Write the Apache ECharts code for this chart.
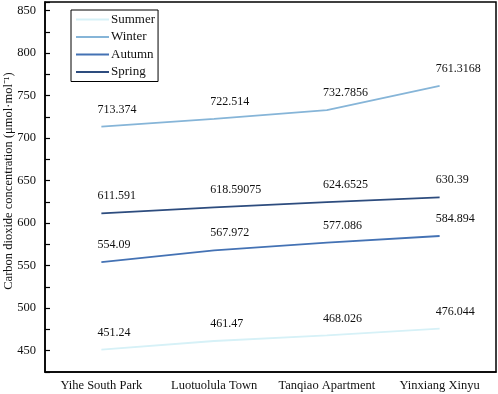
<!DOCTYPE html>
<html>
<head>
<meta charset="utf-8">
<script src="https://cdn.jsdelivr.net/npm/echarts@6/dist/echarts.min.js"></script>
<style>
  html, body { margin: 0; padding: 0; background: #fff; }
  #main { width: 498px; height: 394px; }
</style>
</head>
<body>
<div id="main"></div>
<script>
var sites = ['Yihe South Park', 'Luotuolula Town', 'Tanqiao Apartment', 'Yinxiang Xinyu'];
var summer = [451.24, 461.47, 468.026, 476.044];
var winter = [713.374, 722.514, 732.7856, 761.3168];
var autumn = [554.09, 567.972, 577.086, 584.894];
var spring = [611.591, 618.59075, 624.6525, 630.39];

var serif = 'Liberation Serif';

var chart = echarts.init(document.getElementById('main'));

function lineSeries(name, data, color) {
    return {
        name: name,
        type: 'line',
        data: data,
        symbol: 'circle',
        symbolSize: 0.1,
        showSymbol: true,
        lineStyle: { color: color, width: 1.8 },
        itemStyle: { color: color },
        label: {
            show: true,
            position: 'top',
            distance: 11,
            align: 'left',
            offset: [-4, 0],
            color: '#111',
            fontFamily: serif,
            fontSize: 12,
            formatter: function (p) { return String(p.value); }
        }
    };
}

var option = {
    backgroundColor: '#fff',
    animation: false,
    grid: {
        left: 45, right: 2, top: 2, bottom: 22,
        containLabel: false,
        outerBoundsMode: 'none',
        show: true,
        borderColor: '#000',
        borderWidth: 1.5
    },
    legend: {
        orient: 'vertical',
        left: 71,
        top: 10,
        icon: 'rect',
        itemWidth: 33,
        itemHeight: 2,
        itemGap: 4.5,
        padding: [3, 3, 3, 5],
        borderColor: '#000',
        borderWidth: 1,
        textStyle: { fontFamily: serif, fontSize: 13, color: '#111', padding: [0, 0, 0, -3], lineHeight: 13 },
        data: ['Summer', 'Winter', 'Autumn', 'Spring']
    },
    xAxis: [
        {
            type: 'category',
            data: sites,
            axisLine: { lineStyle: { color: '#000', width: 1.5 } },
            axisTick: { alignWithLabel: true, inside: true, length: 6, lineStyle: { color: '#000', width: 1.2 } },
            axisLabel: { interval: 0, hideOverlap: false, color: '#111', fontFamily: serif, fontSize: 12.5, margin: 7 }
        },
        {
            type: 'category',
            data: sites,
            position: 'bottom',
            axisLine: { show: false },
            axisTick: { inside: true, length: 4, lineStyle: { color: '#000', width: 1.2 } },
            axisLabel: { show: false }
        }
    ],
    yAxis: {
        type: 'value',
        min: 425,
        max: 860,
        interval: 25,
        name: 'Carbon dioxide concentration (μmol·mol⁻¹)',
        nameLocation: 'middle',
        nameGap: 30,
        nameMoveOverlap: false,
        nameTextStyle: { fontFamily: serif, fontSize: 12.5, color: '#111', padding: [0, 0, 0, 12] },
        splitLine: { show: false },
        axisLine: { show: true, lineStyle: { color: '#000', width: 1.5 } },
        axisTick: { show: true, inside: true, length: 5, lineStyle: { color: '#000', width: 1.2 } },
        axisLabel: {
            color: '#111', fontFamily: serif, fontSize: 12.5, margin: 9,
            formatter: function (v) { return v % 50 === 0 ? String(v) : ''; }
        }
    },
    series: [
        lineSeries('Summer', summer, '#d6f1f7'),
        lineSeries('Winter', winter, '#86b5d8'),
        lineSeries('Autumn', autumn, '#4472b4'),
        lineSeries('Spring', spring, '#2d4c7e')
    ]
};

chart.setOption(option);
</script>
</body>
</html>
